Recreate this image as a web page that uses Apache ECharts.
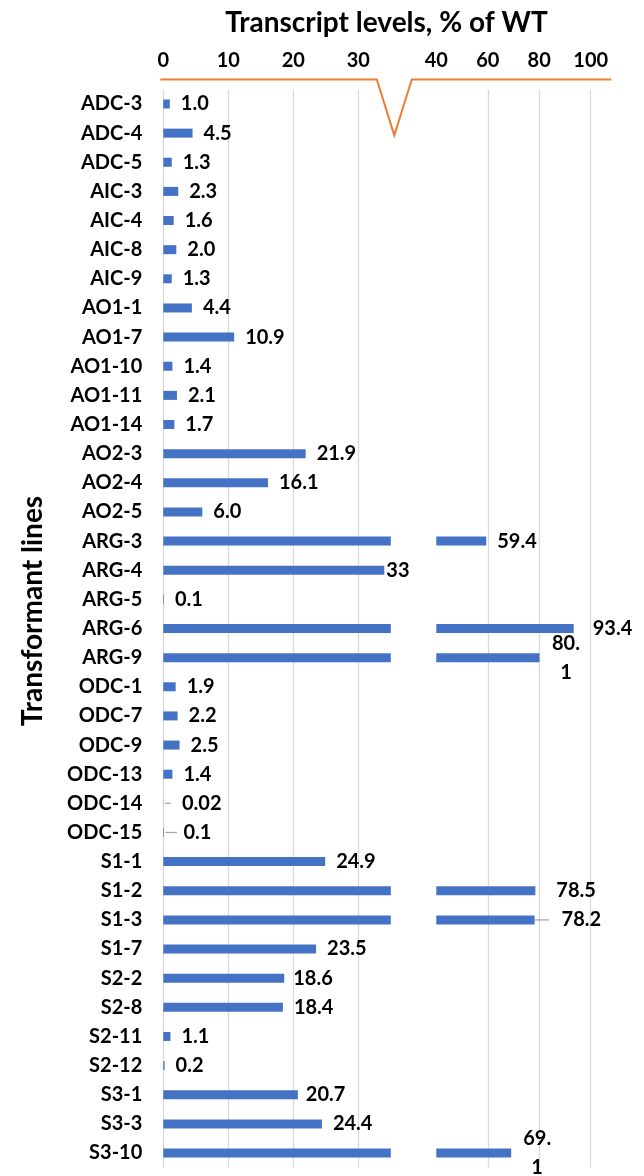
<!DOCTYPE html>
<html><head><meta charset="utf-8">
<script src="https://cdn.jsdelivr.net/npm/echarts@6/dist/echarts.min.js"></script>
<style>html,body{margin:0;padding:0;background:#fff}#c{width:644px;height:1176px}</style>
</head><body><div id="c"></div>
<script>
// ---- data ----
const categories = ['ADC-3','ADC-4','ADC-5','AIC-3','AIC-4','AIC-8','AIC-9','AO1-1','AO1-7','AO1-10','AO1-11','AO1-14','AO2-3','AO2-4','AO2-5','ARG-3','ARG-4','ARG-5','ARG-6','ARG-9','ODC-1','ODC-7','ODC-9','ODC-13','ODC-14','ODC-15','S1-1','S1-2','S1-3','S1-7','S2-2','S2-8','S2-11','S2-12','S3-1','S3-3','S3-10'];
const values = [1.0,4.5,1.3,2.3,1.6,2.0,1.3,4.4,10.9,1.4,2.1,1.7,21.9,16.1,6.0,59.4,34,0.1,93.4,80.1,1.9,2.2,2.5,1.4,0.02,0.1,24.9,78.5,78.2,23.5,18.6,18.4,1.1,0.2,20.7,24.4,69.1];
const labelTexts = ['1.0','4.5','1.3','2.3','1.6','2.0','1.3','4.4','10.9','1.4','2.1','1.7','21.9','16.1','6.0','59.4','33','0.1','93.4','80.\n1','1.9','2.2','2.5','1.4','0.02','0.1','24.9','78.5','78.2','23.5','18.6','18.4','1.1','0.2','20.7','24.4','69.\n1'];
const titleText = 'Transcript levels, % of WT';
const yName = 'Transformant lines';

// ---- axis ranges (broken axis) ----
const LEFT_MIN = 0, LEFT_MAX = 35, LEFT_STEP = 10;
const RIGHT_MIN = 40, RIGHT_MAX = 108, RIGHT_STEP = 20;

// ---- styling ----
const FONT = 'Lato';
const BLUE = '#4472C4';
const GRID_C = '#D9D9D9';
const ORANGE = '#ED7D31';
const labelGap = {'ARG-4':2,'ARG-6':19,'S1-2':21,'S2-2':9,'S3-1':8};
const wrapped = {'ARG-9':26.5,'S3-10':26};
const leader = {'ODC-14':{d:1.5,line:6,pad:11},'ODC-15':{d:1.5,line:11.5,pad:6.5},'S1-3':{d:0.5,line:14,pad:12.5}};

function mkData(side){
  return values.map((v,i)=>{
    const cat = categories[i];
    const show = side === 'left' ? v <= LEFT_MAX : v >= RIGHT_MIN;
    const item = {value: v, label: {show: show}};
    if (!show) return item;
    item.label.formatter = labelTexts[i];
    if (wrapped[cat] != null) {
      item.label.align = 'center';
      item.label.distance = wrapped[cat];
      item.label.lineHeight = 29;
    } else if (leader[cat]) {
      const ld = leader[cat];
      item.label.distance = ld.d;
      item.label.formatter = '{ln|}{sp|}{t|' + labelTexts[i] + '}';
      item.label.rich = {
        ln:{width:ld.line, height:1.3, backgroundColor:'#A6A6A6', verticalAlign:'middle'},
        sp:{width:ld.pad, height:1},
        t:{color:'#000', fontFamily:FONT, fontWeight:'bold', fontSize:20}
      };
    } else if (labelGap[cat] != null) {
      item.label.distance = labelGap[cat];
    }
    return item;
  });
}

const L = 163.3, T = 89.4, H = 1078.2;
const pxLeft = 6.5, pxRight = 2.573;
const RL = 436.3;

const baseLabel = {position:'right', distance:11, color:'#000', fontFamily:FONT, fontWeight:'bold', fontSize:20};
const tickLabel = {color:'#000', fontFamily:FONT, fontWeight:'bold', fontSize:20, margin:19};

const chart = echarts.init(document.getElementById('c'));
chart.setOption({
  animation:false,
  textStyle:{fontFamily:FONT},
  grid:[
    {left:L, top:T, width:(LEFT_MAX-LEFT_MIN)*pxLeft, height:H, outerBoundsMode:'none', containLabel:false},
    {left:RL, top:T, width:(RIGHT_MAX-RIGHT_MIN)*pxRight, height:H, outerBoundsMode:'none', containLabel:false}
  ],
  xAxis:[
    {gridIndex:0, type:'value', position:'top', min:LEFT_MIN, max:LEFT_MAX, interval:LEFT_STEP,
     axisLine:{show:false}, axisTick:{show:false},
     axisLabel:Object.assign({showMaxLabel:false}, tickLabel),
     splitLine:{show:true, showMaxLine:false, lineStyle:{color:GRID_C, width:1.3}}},
    {gridIndex:1, type:'value', position:'top', min:RIGHT_MIN, max:RIGHT_MAX, interval:RIGHT_STEP,
     axisLine:{show:false}, axisTick:{show:false},
     axisLabel:Object.assign({showMaxLabel:false}, tickLabel),
     splitLine:{show:true, showMinLine:false, showMaxLine:false, lineStyle:{color:GRID_C, width:1.3}}}
  ],
  yAxis:[
    {gridIndex:0, type:'category', data:categories, inverse:true,
     axisLine:{show:false}, axisTick:{show:false},
     axisLabel:{color:'#000', fontFamily:FONT, fontWeight:'bold', fontSize:20, margin:21}},
    {gridIndex:1, type:'category', data:categories, inverse:true, show:false}
  ],
  series:[
    {type:'bar', xAxisIndex:0, yAxisIndex:0, data:mkData('left'), barWidth:9,
     itemStyle:{color:BLUE}, label:baseLabel, clip:true},
    {type:'bar', xAxisIndex:1, yAxisIndex:1, data:mkData('right'), barWidth:9,
     itemStyle:{color:BLUE}, label:baseLabel, clip:true}
  ]
});

// broken-axis line, title and y-axis name, positioned from the axes
const x0 = chart.convertToPixel({xAxisIndex:0}, LEFT_MIN);
const xL = chart.convertToPixel({xAxisIndex:0}, LEFT_MAX);
const xR = chart.convertToPixel({xAxisIndex:1}, RIGHT_MAX);
const yLine = T - 10;
const vC = xL + 3.5;
chart.setOption({
  graphic:[
    {type:'polyline', silent:true, shape:{points:[[x0-3,yLine],[vC-17.5,yLine],[vC,yLine+56],[vC+17.5,yLine],[xR,yLine]]},
     style:{stroke:ORANGE, lineWidth:2, fill:null}},
    {type:'text', silent:true, x:386.5, y:23,
     style:{text:titleText, fill:'#000', font:'bold 28px ' + FONT, textAlign:'center', textVerticalAlign:'middle'}},
    {type:'text', silent:true, x:33, y:611, rotation:Math.PI/2,
     style:{text:yName, fill:'#000', font:'bold 28px ' + FONT, textAlign:'center', textVerticalAlign:'middle'}}
  ]
});
</script>
</body></html>
